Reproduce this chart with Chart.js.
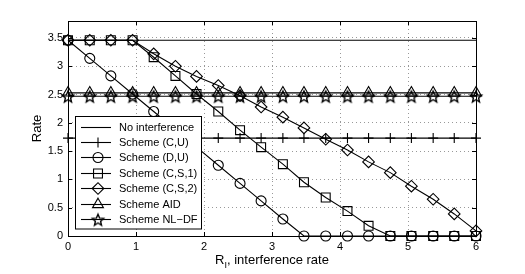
<!DOCTYPE html>
<html>
<head>
<meta charset="utf-8">
<script src="https://cdn.jsdelivr.net/npm/chart.js@4.4.0/dist/chart.umd.min.js"></script>
<style>
  html, body { margin: 0; padding: 0; background: #fff; }
  #wrap { width: 525px; height: 274px; }
</style>
</head>
<body>
<div id="wrap"><canvas id="mainChart" width="525" height="274"></canvas></div>
<script>
// x: R_I, interference rate (20 points from 0 to 6)
const rateI = [0, 0.32, 0.63, 0.95, 1.26, 1.58, 1.89, 2.21, 2.53, 2.84,
               3.16, 3.47, 3.79, 4.11, 4.42, 4.74, 5.05, 5.37, 5.68, 6];

const noInterferenceX = [0, 6];
const noInterference  = [3.46, 3.46];

const schemeCU = [1.73, 1.73, 1.73, 1.73, 1.73, 1.73, 1.73, 1.73, 1.73, 1.73,
                  1.73, 1.73, 1.73, 1.73, 1.73, 1.73, 1.73, 1.73, 1.73, 1.73];
const schemeDU = [3.46, 3.14, 2.83, 2.51, 2.20, 1.88, 1.57, 1.25, 0.93, 0.62,
                  0.30, 0, 0, 0, 0, 0, 0, 0, 0, 0];
const schemeCS1 = [3.46, 3.46, 3.46, 3.46, 3.16, 2.83, 2.51, 2.20, 1.87, 1.57,
                   1.27, 0.95, 0.68, 0.44, 0.18, 0, 0, 0, 0, 0];
const schemeCS2 = [3.46, 3.46, 3.46, 3.46, 3.22, 3.00, 2.82, 2.66, 2.48, 2.28,
                   2.10, 1.91, 1.71, 1.52, 1.31, 1.12, 0.88, 0.65, 0.39, 0.09];
const schemeAID = [2.53, 2.53, 2.53, 2.53, 2.53, 2.53, 2.53, 2.53, 2.53, 2.53,
                   2.53, 2.53, 2.53, 2.53, 2.53, 2.53, 2.53, 2.53, 2.53, 2.53];
const schemeNLDF = [2.47, 2.47, 2.47, 2.47, 2.47, 2.47, 2.47, 2.47, 2.47, 2.47,
                    2.47, 2.47, 2.47, 2.47, 2.47, 2.47, 2.47, 2.47, 2.47, 2.47];

const seriesLabels = ['No interference', 'Scheme (C,U)', 'Scheme (D,U)', 'Scheme (C,S,1)',
                      'Scheme (C,S,2)', 'Scheme AID', 'Scheme NL\u2212DF'];

const xTicks = [0, 1, 2, 3, 4, 5, 6];
const yTicks = [0, 0.5, 1, 1.5, 2, 2.5, 3, 3.5];

const FONT = 'Liberation Sans, Arial, Helvetica, sans-serif';

// 별 모양 마커 (outline pentagram)
function makeStar(r) {
  const c = document.createElement('canvas');
  const s = Math.ceil(r * 2 + 4);
  c.width = s; c.height = s;
  const g = c.getContext('2d');
  const cx = s / 2, cy = s / 2 + 0.8;
  const inner = r * 0.45;
  g.beginPath();
  for (let i = 0; i < 10; i++) {
    const rr = i % 2 === 0 ? r : inner;
    const a = -Math.PI / 2 + i * Math.PI / 5;
    const px = cx + rr * Math.cos(a), py = cy + rr * Math.sin(a);
    if (i === 0) g.moveTo(px, py); else g.lineTo(px, py);
  }
  g.closePath();
  g.strokeStyle = '#000';
  g.lineWidth = 1.4;
  g.stroke();
  return c;
}
const starMarker = makeStar(6);

function toPoints(xs, ys) {
  return xs.map((x, i) => ({ x, y: ys[i] }));
}

function series(label, ys, style, radius, xs) {
  return {
    label,
    data: toPoints(xs || rateI, ys),
    borderColor: '#000',
    backgroundColor: 'rgba(0,0,0,0)',
    borderWidth: 1.1,
    pointStyle: style,
    pointRadius: radius,
    pointBorderWidth: 1.1,
    pointBorderColor: '#000',
    pointBackgroundColor: 'rgba(0,0,0,0)',
    pointHoverRadius: radius,
    showLine: true,
    tension: 0,
    clip: false
  };
}

const datasets = [
  series(seriesLabels[0], noInterference, false, 0, noInterferenceX),
  series(seriesLabels[1], schemeCU, 'cross', 5),
  series(seriesLabels[2], schemeDU, 'circle', 5),
  series(seriesLabels[3], schemeCS1, 'rect', 6.3),
  series(seriesLabels[4], schemeCS2, 'rectRot', 5.8),
  series(seriesLabels[5], schemeAID, 'triangle', 6.3),
  series(seriesLabels[6], schemeNLDF, starMarker, 6)
];

// MATLAB 스타일 축 상자, 안쪽 눈금, 범례, 축 제목
const matlabFrame = {
  id: 'matlabFrame',
  afterDatasetsDraw(chart) {
    const { ctx, chartArea: a, scales } = chart;
    ctx.save();
    ctx.strokeStyle = '#000';
    ctx.lineWidth = 1;

    // 축 상자
    ctx.strokeRect(Math.round(a.left) + 0.5, Math.round(a.top) + 0.5,
                   Math.round(a.right - a.left), Math.round(a.bottom - a.top));

    // 안쪽 눈금
    const tl = 4;
    ctx.beginPath();
    scales.x.ticks.forEach(t => {
      const px = Math.round(scales.x.getPixelForValue(t.value)) + 0.5;
      ctx.moveTo(px, a.bottom); ctx.lineTo(px, a.bottom - tl);
      ctx.moveTo(px, a.top); ctx.lineTo(px, a.top + tl);
    });
    scales.y.ticks.forEach(t => {
      const py = Math.round(scales.y.getPixelForValue(t.value)) + 0.5;
      ctx.moveTo(a.left, py); ctx.lineTo(a.left + tl, py);
      ctx.moveTo(a.right, py); ctx.lineTo(a.right - tl, py);
    });
    ctx.stroke();

    // 범례
    const lx = a.left + 7, ly = a.top + 95, lw = 126, lh = 112.5;
    ctx.fillStyle = '#fff';
    ctx.fillRect(lx, ly, lw, lh);
    ctx.strokeRect(Math.round(lx) + 0.5, Math.round(ly) + 0.5, lw, lh);
    ctx.font = '11px ' + FONT;
    ctx.textBaseline = 'middle';
    ctx.textAlign = 'left';
    chart.data.datasets.forEach((ds, i) => {
      const ry = Math.round(ly + 10.5 + i * 15.4) + 0.5;
      ctx.strokeStyle = '#000';
      ctx.lineWidth = 1.1;
      ctx.beginPath();
      ctx.moveTo(lx + 6, ry); ctx.lineTo(lx + 36, ry);
      ctx.stroke();
      if (ds.pointStyle && ds.pointRadius > 0) {
        ctx.fillStyle = 'rgba(0,0,0,0)';
        Chart.helpers.drawPoint(ctx, {
          pointStyle: ds.pointStyle, radius: ds.pointRadius,
          borderWidth: 1.1, rotation: 0
        }, Math.round(lx + 23), ry);
      }
      ctx.fillStyle = '#000';
      ctx.fillText(ds.label, lx + 44, ry + 0.5);
    });

    // y 축 제목
    ctx.font = '13px ' + FONT;
    ctx.fillStyle = '#000';
    ctx.save();
    ctx.translate(37, (a.top + a.bottom) / 2);
    ctx.rotate(-Math.PI / 2);
    ctx.textAlign = 'center';
    ctx.textBaseline = 'middle';
    ctx.fillText('Rate', 0, 0);
    ctx.restore();

    // x 축 제목: R_I, interference rate
    ctx.textAlign = 'left';
    ctx.textBaseline = 'alphabetic';
    const mainFont = '13px ' + FONT, subFont = '9px ' + FONT;
    ctx.font = mainFont; const wR = ctx.measureText('R').width;
    const rest = ', interference rate';
    const wRest = ctx.measureText(rest).width;
    ctx.font = subFont; const wI = ctx.measureText('I').width;
    const total = wR + wI + wRest;
    let sx = (a.left + a.right) / 2 - total / 2;
    const base = 264;
    ctx.font = mainFont; ctx.fillText('R', sx, base); sx += wR;
    ctx.font = subFont; ctx.fillText('I', sx, base + 4); sx += wI;
    ctx.font = mainFont; ctx.fillText(rest, sx, base);

    ctx.restore();
  }
};

const ctx = document.getElementById('mainChart').getContext('2d');
window.myChart = new Chart(ctx, {
  type: 'line',
  data: { datasets },
  options: {
    responsive: false,
    animation: false,
    events: [],
    layout: { padding: { left: 0, right: 49, top: 21, bottom: 0 } },
    plugins: {
      legend: { display: false },
      tooltip: { enabled: false },
      title: { display: false }
    },
    scales: {
      x: {
        type: 'linear',
        min: 0,
        max: 6,
        afterBuildTicks: s => { s.ticks = xTicks.map(v => ({ value: v })); },
        afterFit: s => { s.height = 38; },
        ticks: {
          color: '#000',
          font: { family: FONT, size: 11 },
          padding: 4,
          maxRotation: 0,
          callback: v => String(v)
        },
        grid: { color: 'rgba(0,0,0,0.4)', drawTicks: false, lineWidth: 1 },
        border: { display: false, dash: [1, 3] }
      },
      y: {
        type: 'linear',
        min: 0,
        max: 3.8,
        afterBuildTicks: s => { s.ticks = yTicks.map(v => ({ value: v })); },
        afterFit: s => { s.width = 68; },
        ticks: {
          color: '#000',
          font: { family: FONT, size: 11 },
          padding: 5,
          callback: v => String(v)
        },
        grid: { color: 'rgba(0,0,0,0.4)', drawTicks: false, lineWidth: 1 },
        border: { display: false, dash: [1, 3] }
      }
    }
  },
  plugins: [matlabFrame]
});
</script>
</body>
</html>
